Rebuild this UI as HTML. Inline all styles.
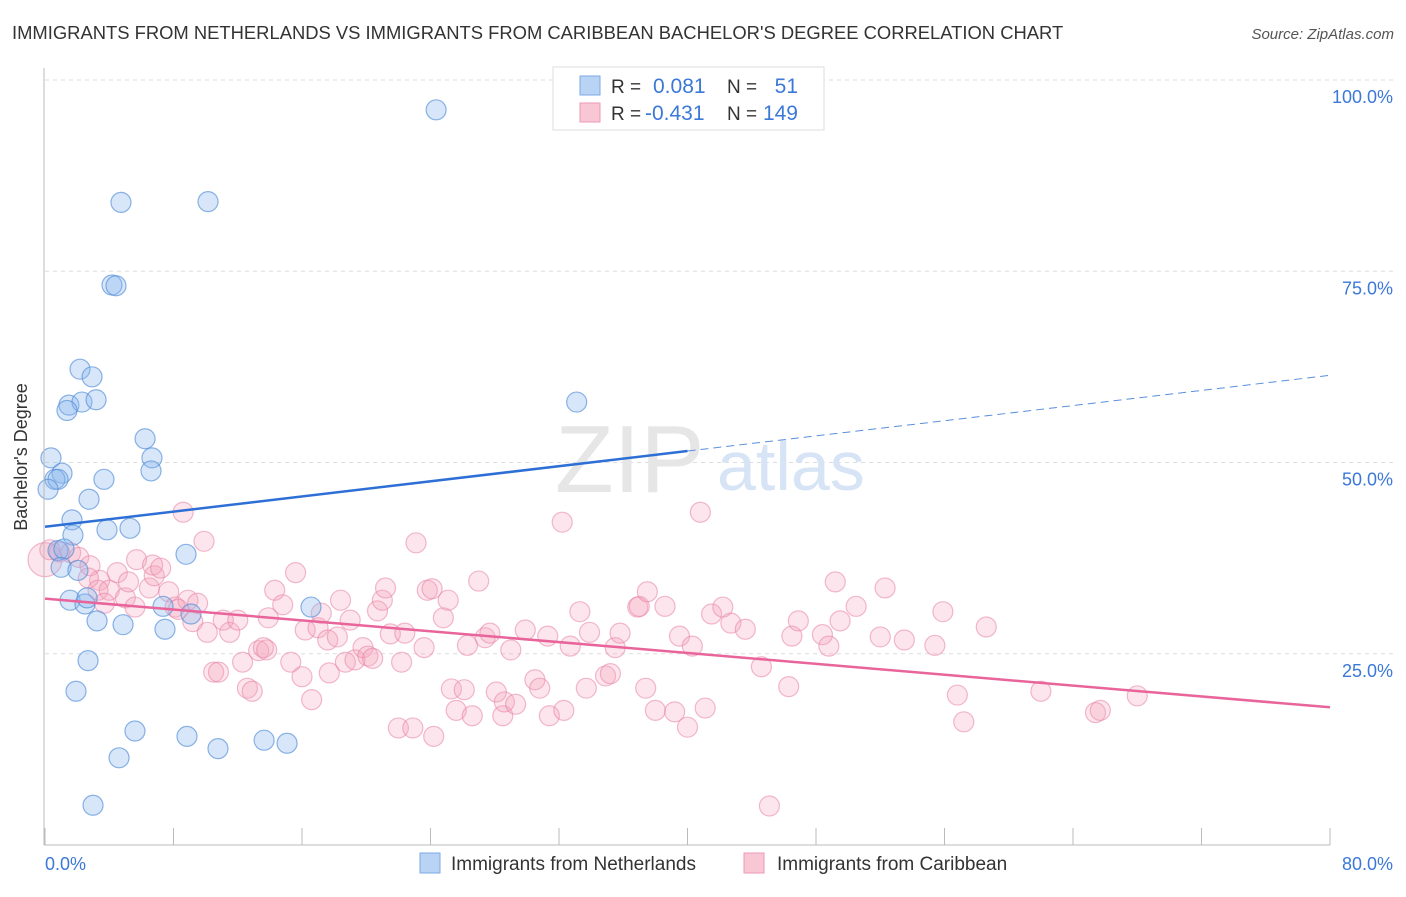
<!DOCTYPE html>
<html><head><meta charset="utf-8"><style>
body{margin:0;background:#fff;font-family:"Liberation Sans",sans-serif;}
svg text{font-family:"Liberation Sans",sans-serif;}
</style></head><body>
<svg id="c" width="1406" height="892" xmlns="http://www.w3.org/2000/svg">
<text x="12" y="39" font-size="18.4" fill="#333">IMMIGRANTS FROM NETHERLANDS VS IMMIGRANTS FROM CARIBBEAN BACHELOR'S DEGREE CORRELATION CHART</text>
<text x="1394" y="39" font-size="15" fill="#555" text-anchor="end" font-style="italic">Source: ZipAtlas.com</text>
<g id="grid"></g>
<text x="555" y="492" font-size="96" fill="#e6e6e6" font-family="Liberation Serif">ZIP</text>
<text x="717" y="490" font-size="70" fill="#d6e4f5">atlas</text>
<g id="pts"></g>
<g id="trend"></g>
<g id="axes"></g>
<text x="25" y="455" font-size="18" fill="#333" text-anchor="middle" transform="rotate(-90 27 455)">Bachelor's Degree</text>
<g>
<rect x="553" y="67" width="271" height="63" fill="#fff" stroke="#ddd"/>
<rect x="580" y="76" width="20" height="19" fill="#b9d3f5" stroke="#7aaae6"/>
<rect x="580" y="103" width="20" height="19" fill="#f9c6d6" stroke="#eb9ab5"/>
<text x="611" y="93" font-size="19" fill="#333">R =</text>
<text x="653" y="93" font-size="21" fill="#3b78d8">0.081</text>
<text x="727" y="93" font-size="19" fill="#333">N =</text>
<text x="798" y="93" font-size="21" fill="#3b78d8" text-anchor="end">51</text>
<text x="611" y="120" font-size="19" fill="#333">R =</text>
<text x="645" y="120" font-size="21" fill="#3b78d8">-0.431</text>
<text x="727" y="120" font-size="19" fill="#333">N =</text>
<text x="798" y="120" font-size="21" fill="#3b78d8" text-anchor="end">149</text>
</g>
<g>
<rect x="420" y="853" width="20" height="20" fill="#b9d3f5" stroke="#7aaae6"/>
<text x="451" y="870" font-size="19" fill="#333">Immigrants from Netherlands</text>
<rect x="744" y="853" width="20" height="20" fill="#f9c6d6" stroke="#eb9ab5"/>
<text x="777" y="870" font-size="19" fill="#333">Immigrants from Caribbean</text>
</g>
</svg>
<script>
const blueX=[24.35,4.73,10.15,4.17,4.42,2.18,2.93,1.49,2.3,3.18,1.37,33.1,6.23,6.66,6.6,0.37,1.06,0.62,0.81,0.19,3.67,2.74,1.68,1.74,5.29,3.86,0.81,1.18,8.78,1.0,2.05,9.09,3.24,1.56,2.49,2.62,7.35,16.56,4.86,7.47,2.68,1.93,5.6,8.84,10.77,13.64,15.07,4.61,2.99];
const blueY=[96.1,84.0,84.1,73.2,73.1,62.2,61.2,57.5,57.9,58.2,56.8,57.9,53.1,50.6,48.9,50.6,48.6,47.8,47.8,46.5,47.8,45.2,42.5,40.5,41.4,41.2,38.5,38.7,38.0,36.3,35.9,30.2,29.3,32.0,31.5,32.3,31.2,31.1,28.8,28.2,24.1,20.1,14.9,14.2,12.6,13.7,13.3,11.4,5.2];
const pinkX=[0,0.3,0.9,1.6,2.1,2.8,3.4,2.7,3.3,4.0,3.7,4.5,5.0,5.2,5.6,5.7,6.5,6.8,6.7,7.2,7.7,8.1,8.3,8.6,8.9,9.2,9.5,9.9,10.1,10.5,10.8,11.1,11.5,12.0,12.3,12.6,12.9,13.3,13.6,13.8,13.9,14.3,14.8,15.3,15.6,16.0,16.2,16.6,17.0,17.2,17.6,17.7,18.2,18.4,18.7,19.0,19.3,19.8,20.1,20.4,20.7,21.0,21.2,21.5,22.0,22.4,22.2,22.9,23.1,23.6,23.8,24.1,24.2,24.8,25.1,25.3,25.6,26.1,26.3,26.6,27.0,27.4,27.7,28.1,28.5,28.6,29.0,29.3,29.9,30.5,30.8,31.3,31.4,32.2,32.3,32.7,33.3,33.7,33.9,34.9,35.2,35.5,35.8,36.9,37.0,37.4,37.5,38.0,38.6,39.2,39.5,40.0,40.3,40.8,41.1,41.5,42.2,42.7,43.6,44.6,45.1,46.3,46.5,46.9,48.4,48.8,49.2,49.5,50.5,52.0,52.3,53.5,55.4,55.9,56.8,57.2,58.6,62.0,65.4,65.7,68.0];
const pinkY=[37.3,38.6,38.3,38.2,37.6,36.5,34.6,34.9,33.3,33.3,31.6,35.6,32.3,34.4,31.1,37.3,33.6,35.2,36.6,36.2,33.1,31.1,30.8,43.5,32.0,29.2,31.6,39.7,27.8,22.6,22.6,29.4,27.8,29.4,23.9,20.5,20.1,25.4,25.8,25.5,29.7,33.3,31.4,23.9,35.6,22.0,28.1,19.0,28.4,30.3,26.8,22.5,27.2,32.0,23.9,29.4,24.2,25.8,24.7,24.4,30.6,32.0,33.6,27.6,15.3,27.7,23.9,15.3,39.5,25.8,33.3,33.5,14.2,29.7,32.0,20.4,17.6,20.3,26.1,16.9,34.5,27.1,27.7,20.0,16.9,18.7,25.5,18.4,28.1,21.6,20.5,27.3,16.9,42.2,17.6,26.0,30.5,20.5,27.8,22.1,22.4,25.8,27.7,31.1,31.2,20.5,33.1,17.6,31.2,17.4,27.3,15.4,26.0,43.5,17.9,30.2,31.1,29.0,28.2,23.3,5.1,20.7,27.3,29.3,27.5,26.0,34.4,29.3,31.2,27.2,33.6,26.8,26.1,30.5,19.6,16.1,28.5,20.1,17.3,17.6,19.5];
const yTicks=[25,50,75,100];
const yTickLabels=["25.0%","50.0%","75.0%","100.0%"];
const xTickVals=[0,8,16,24,32,40,48,56,64,72,80];
const xEndLabels=["0.0%","80.0%"];
const blueTrend=[41.6,0.2475];
const pinkTrend=[32.2,-0.1775];
const NS="http://www.w3.org/2000/svg";
const sx=v=>45+v/80*1285;
const sy=v=>845-v/100*765;
function mk(t,a,p){const e=document.createElementNS(NS,t);for(const k in a)e.setAttribute(k,a[k]);p.appendChild(e);return e;}
const grid=document.getElementById('grid'),axes=document.getElementById('axes'),pts=document.getElementById('pts'),tr=document.getElementById('trend');
yTicks.forEach((v,i)=>{
 const l=mk('line',{x1:45,x2:1394,y1:sy(v),y2:sy(v),stroke:'#ddd','stroke-dasharray':'4 4'},grid);
 
 
 const t=mk('text',{x:1393,y:sy(v)+23,'font-size':18,fill:'#3b78d8','text-anchor':'end'},axes);
 t.textContent=yTickLabels[i];
 
 
});
const ya=mk('line',{x1:44,x2:44,y1:68,y2:845,stroke:'#bbb'},axes);


const xa=mk('line',{x1:44,x2:1330,y1:845,y2:845,stroke:'#bbb'},axes);


xTickVals.forEach(v=>{
 const l=mk('line',{x1:sx(v),x2:sx(v),y1:828,y2:845,stroke:'#bbb'},axes);
 
 
});
const xl0=mk('text',{x:45,y:870,'font-size':18,fill:'#3b78d8'},axes);xl0.textContent=xEndLabels[0];


const xl1=mk('text',{x:1393,y:870,'font-size':18,fill:'#3b78d8','text-anchor':'end'},axes);xl1.textContent=xEndLabels[1];


pinkX.forEach((x,i)=>{
 const c=mk('circle',{cx:sx(x),cy:sy(pinkY[i]),r:i===0?17:10,fill:'rgba(244,160,188,0.28)',stroke:'rgba(232,130,166,0.55)','stroke-width':1.2},pts);
 
 
});
blueX.forEach((x,i)=>{
 const c=mk('circle',{cx:sx(x),cy:sy(blueY[i]),r:10,fill:'rgba(140,184,238,0.35)',stroke:'rgba(80,140,215,0.65)','stroke-width':1.2},pts);
 
 
});
const bf=x=>blueTrend[0]+blueTrend[1]*x, pf=x=>pinkTrend[0]+pinkTrend[1]*x;
const b1=mk('line',{x1:sx(0),y1:sy(bf(0)),x2:sx(40),y2:sy(bf(40)),stroke:'#2e6fd6','stroke-width':2.5},tr);


const b2=mk('line',{x1:sx(40),y1:sy(bf(40)),x2:sx(80),y2:sy(bf(80)),stroke:'#5a8fdc','stroke-width':1,'stroke-dasharray':'8 5'},tr);


const p1=mk('line',{x1:sx(0),y1:sy(pf(0)),x2:sx(80),y2:sy(pf(80)),stroke:'#e8649a','stroke-width':2.5},tr);


</script>
</body></html>
